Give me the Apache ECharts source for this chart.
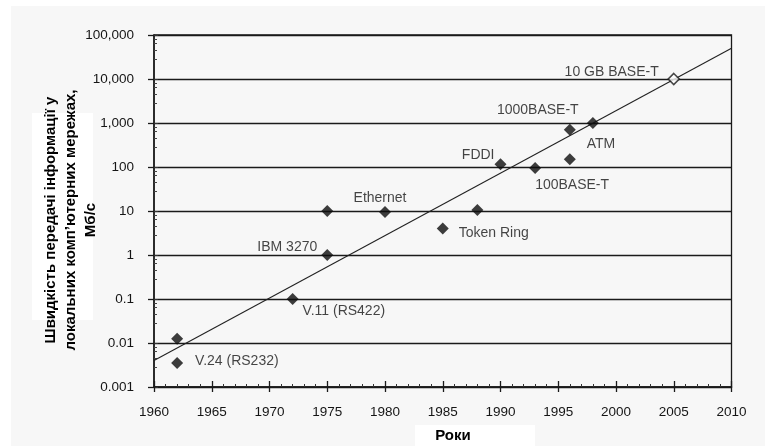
<!DOCTYPE html>
<html>
<head>
<meta charset="utf-8">
<script src="https://cdn.jsdelivr.net/npm/echarts@6/dist/echarts.min.js"></script>
<style>html,body{margin:0;padding:0;background:#fff;}#c{width:771px;height:446px;}</style>
</head>
<body>
<div id="c"></div>
<script>
// ---- data ----
const years = [1962, 1962, 1972, 1975, 1975, 1980, 1985, 1988, 1990, 1993, 1996, 1996, 1998, 2005];
const speeds = [0.0125, 0.0035, 0.1, 1, 10, 9.5, 4, 10.5, 115, 95, 150, 700, 1000, 10000];
const pointLabels = ['', 'V.24 (RS232)', 'V.11 (RS422)', 'IBM 3270', '', 'Ethernet', 'Token Ring', '', 'FDDI', '100BASE-T', '', '1000BASE-T', 'ATM', '10 GB BASE-T'];
const trendYears = [1960, 2010];
const trendSpeeds = [0.004, 50000];
const xTickLabels = ['1960','1965','1970','1975','1980','1985','1990','1995','2000','2005','2010'];
const yTickLabels = ['0.001','0.01','0.1','1','10','100','1,000','10,000','100,000'];
const yTitle = 'Швидкість передачі інформації у\nлокальних комп\u2019ютерних мережах,\nМб/с';
const xTitle = 'Роки';

// ---- label placement (style only) ----
const labelPlace = {
  'V.24 (RS232)': {align:'left', offset:[18, -2]},
  'V.11 (RS422)': {align:'left', offset:[10, 12]},
  'IBM 3270': {align:'right', offset:[-10, -8]},
  'Ethernet': {align:'center', offset:[-5, -14]},
  'Token Ring': {align:'left', offset:[16, 5]},
  'FDDI': {align:'right', offset:[-6, -9]},
  '100BASE-T': {align:'left', offset:[0, 17]},
  '1000BASE-T': {align:'center', offset:[-32, -20]},
  'ATM': {align:'center', offset:[8, 21]},
  '10 GB BASE-T': {align:'right', offset:[-15, -7]}
};
const openIndex = pointLabels.indexOf('10 GB BASE-T');

const FONT = 'Liberation Sans, Arial, sans-serif';
const DARK = '#1a1a1a';

const scatterData = years.map((y, i) => {
  const name = pointLabels[i];
  const item = {value: [y, speeds[i]], name: name};
  if (i === openIndex) {
    item.itemStyle = {color: '#fff', borderColor: DARK, borderWidth: 1.6};
    item.symbolSize = 11;
  }
  if (name) {
    const p = labelPlace[name];
    item.label = {show: true, position: 'inside', formatter: name, align: p.align,
      verticalAlign: 'middle', offset: p.offset, color: '#151515', fontSize: 14, fontFamily: FONT};
  }
  return item;
});

const chart = echarts.init(document.getElementById('c'), null, {renderer: 'canvas'});
const xBase = {type: 'value', min: 1960, max: 2010, interval: 5, gridIndex: 0, position: 'bottom'};
const yBase = {type: 'log', logBase: 10, min: 0.001, max: 100000, gridIndex: 0, position: 'left'};
chart.setOption({
  backgroundColor: '#fff',
  animation: false,
  graphic: [
    {type: 'rect', z: -10, silent: true, shape: {x: 11, y: 6, width: 754, height: 440}, style: {fill: '#f7f7f7'}},
    {type: 'rect', z: -5, silent: true, shape: {x: 32, y: 113, width: 61, height: 207}, style: {fill: '#ffffff'}},
    {type: 'rect', z: -5, silent: true, shape: {x: 415, y: 425, width: 120, height: 21}, style: {fill: '#ffffff'}},
    {type: 'text', x: 71, y: 220, rotation: Math.PI / 2,
      style: {text: yTitle, align: 'center', verticalAlign: 'middle', font: 'bold 15px ' + FONT, fill: '#000', lineHeight: 20}},
    {type: 'text', x: 453, y: 436,
      style: {text: xTitle, align: 'center', verticalAlign: 'middle', font: 'bold 15px ' + FONT, fill: '#000'}}
  ],
  grid: {left: 154, right: 39.5, top: 35, bottom: 59, show: true, borderColor: DARK, borderWidth: 1.3, backgroundColor: 'transparent'},
  xAxis: [
    Object.assign({}, xBase, {
      axisLine: {show: true, onZero: false, lineStyle: {color: DARK, width: 1.5}},
      axisTick: {show: true, inside: false, length: 5, lineStyle: {color: DARK, width: 1.3}},
      axisLabel: {margin: 18, color: '#151515', fontSize: 13.5, fontFamily: FONT,
        formatter: v => xTickLabels[Math.round((v - 1960) / 5)]},
      splitLine: {show: false}
    }),
    Object.assign({}, xBase, {
      axisLine: {show: false, onZero: false},
      axisTick: {show: true, inside: true, length: 6, lineStyle: {color: DARK, width: 1.3}},
      minorTick: {show: true, splitNumber: 5, length: 3, lineStyle: {color: '#333', width: 1}},
      axisLabel: {show: false},
      splitLine: {show: false}
    })
  ],
  yAxis: [
    Object.assign({}, yBase, {
      axisLine: {show: true, onZero: false, lineStyle: {color: DARK, width: 1.5}},
      axisTick: {show: true, inside: false, length: 6, lineStyle: {color: DARK, width: 1.3}},
      axisLabel: {margin: 20, color: '#151515', fontSize: 13.5, fontFamily: FONT,
        formatter: v => yTickLabels[Math.round(Math.log10(v)) + 3]},
      splitLine: {show: true, lineStyle: {color: DARK, width: 1.3}}
    }),
    Object.assign({}, yBase, {
      axisLine: {show: false, onZero: false},
      axisTick: {show: true, inside: true, length: 4, lineStyle: {color: '#333', width: 1}},
      minorTick: {show: true, splitNumber: 5, length: 3, lineStyle: {color: '#444', width: 1}},
      axisLabel: {show: false},
      splitLine: {show: false}
    })
  ],
  series: [
    {type: 'line', xAxisIndex: 0, yAxisIndex: 0, data: trendYears.map((y, i) => [y, trendSpeeds[i]]),
      showSymbol: false, symbol: 'none', lineStyle: {color: '#222', width: 1.1}, z: 2, silent: true},
    {type: 'scatter', xAxisIndex: 0, yAxisIndex: 0, data: scatterData, symbol: 'diamond', symbolSize: 12,
      itemStyle: {color: '#0d0d0d'}, z: 3, silent: true}
  ]
});
</script>
</body>
</html>
